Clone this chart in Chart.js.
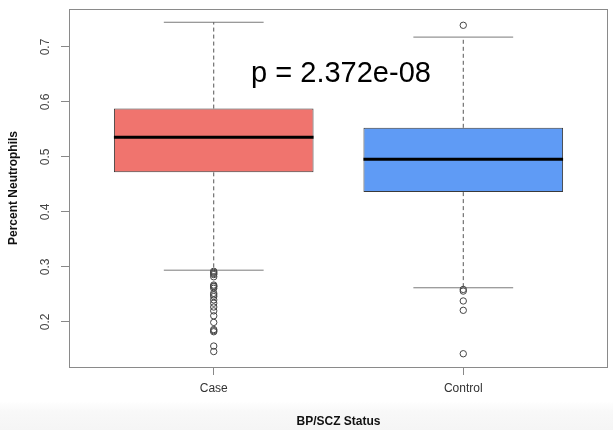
<!DOCTYPE html>
<html>
<head>
<meta charset="utf-8">
<title>Percent Neutrophils by BP/SCZ Status</title>
<script src="https://cdn.jsdelivr.net/npm/chart.js@4"></script>
<style>
  html, body { margin: 0; padding: 0; }
  body {
    width: 613px; height: 430px; overflow: hidden;
    background: linear-gradient(to bottom, #ffffff 0px, #ffffff 401px, #f8f8f8 412px, #f5f5f5 430px);
  }
  canvas { display: block; }
</style>
</head>
<body>
<canvas id="chart" width="613" height="430"></canvas>
<script>
// Groups on the x axis
const groups = ['Case', 'Control'];

// Five-number summaries per group
const lowerWhisker = [0.294, 0.262];
const q1 = [0.472, 0.436];
const median = [0.536, 0.496];
const q3 = [0.588, 0.553];
const upperWhisker = [0.745, 0.718];

// Points beyond the whiskers
const caseOutliers = [0.292, 0.290, 0.288, 0.286, 0.282, 0.267, 0.265, 0.264, 0.261,
  0.252, 0.249, 0.246, 0.240, 0.234, 0.227, 0.220, 0.211, 0.199, 0.186, 0.184, 0.182,
  0.156, 0.146];
const controlOutliers = [0.7395, 0.259, 0.256, 0.238, 0.221, 0.142];
const outliers = [caseOutliers, controlOutliers];

// Axis ticks
const yTicks = [0.2, 0.3, 0.4, 0.5, 0.6, 0.7];

// Test annotation
const pValueText = 'p = 2.372e-08';

const boxColors = ['#F0746E', '#5F9BF5'];
const FONT = '"Liberation Sans", Arial, Helvetica, sans-serif';
const BOX_HALF = 0.4;     // half box width in group units
const STAPLE_HALF = 0.2;  // half whisker-cap width

// Axis limits padded 4% beyond the data range
const allValues = [].concat(lowerWhisker, upperWhisker, caseOutliers, controlOutliers);
const yLo = Math.min(...allValues), yHi = Math.max(...allValues);
const yPad = (yHi - yLo) * 0.04;
const xPad = groups.length * 0.04;

const datasets = [];

// Boxes: floating bars from Q1 to Q3
datasets.push({
  type: 'bar',
  data: groups.map((g, i) => ({ x: i + 1, y: [q1[i], q3[i]] })),
  backgroundColor: boxColors,
  borderColor: '#3a3a3a',
  borderWidth: 1,
  borderSkipped: false,
  barPercentage: 1,
  categoryPercentage: 0.8,
  order: 5
});

groups.forEach((g, i) => {
  const c = i + 1;
  // Median
  datasets.push({
    type: 'line', showLine: true,
    data: [{ x: c - BOX_HALF, y: median[i] }, { x: c + BOX_HALF, y: median[i] }],
    borderColor: '#000', borderWidth: 3, pointRadius: 0, borderCapStyle: 'butt',
    order: 0
  });
  // Dashed whiskers
  datasets.push({
    type: 'line', showLine: true,
    data: [{ x: c, y: q3[i] }, { x: c, y: upperWhisker[i] }],
    borderColor: '#555', borderWidth: 1, borderDash: [4, 3], pointRadius: 0,
    order: 3
  });
  datasets.push({
    type: 'line', showLine: true,
    data: [{ x: c, y: q1[i] }, { x: c, y: lowerWhisker[i] }],
    borderColor: '#555', borderWidth: 1, borderDash: [4, 3], pointRadius: 0,
    order: 3
  });
  // Whisker caps
  [upperWhisker[i], lowerWhisker[i]].forEach(w => {
    datasets.push({
      type: 'line', showLine: true,
      data: [{ x: c - STAPLE_HALF, y: w }, { x: c + STAPLE_HALF, y: w }],
      borderColor: '#7a7a7a', borderWidth: 1, pointRadius: 0,
      order: 3
    });
  });
  // Outlying points
  datasets.push({
    type: 'scatter', showLine: false,
    data: outliers[i].map(v => ({ x: c, y: v })),
    pointStyle: 'circle', pointRadius: 3.2,
    pointBorderColor: '#444', pointBackgroundColor: 'rgba(0,0,0,0)', pointBorderWidth: 1,
    order: 1
  });
});

// Plot frame and the p-value annotation
const framePlugin = {
  id: 'frame',
  afterDatasetsDraw(chart) {
    const { ctx, chartArea: a, scales } = chart;
    ctx.save();
    ctx.strokeStyle = '#8a8a8a';
    ctx.lineWidth = 1;
    ctx.strokeRect(Math.round(a.left) + 0.5, Math.round(a.top) + 0.5,
      Math.round(a.right - a.left) - 1, Math.round(a.bottom - a.top));
    ctx.fillStyle = '#000';
    ctx.font = '29px ' + FONT;
    ctx.textAlign = 'center';
    ctx.textBaseline = 'middle';
    ctx.fillText(pValueText, scales.x.getPixelForValue(1.51), scales.y.getPixelForValue(0.65));
    ctx.restore();
  }
};

new Chart(document.getElementById('chart'), {
  type: 'scatter',
  data: { datasets },
  plugins: [framePlugin],
  options: {
    responsive: false,
    devicePixelRatio: 1,
    animation: false,
    layout: { padding: { top: 9, right: 1, left: 0, bottom: 0 } },
    plugins: { legend: { display: false }, tooltip: { enabled: false } },
    scales: {
      x: {
        type: 'linear',
        min: 0.5 - xPad,
        max: groups.length + 0.5 + xPad,
        offset: false,
        afterBuildTicks(scale) { scale.ticks = groups.map((g, i) => ({ value: i + 1 })); },
        afterFit(scale) {
          scale.height = 63;
          scale.paddingLeft = 0; scale.paddingRight = 0;
        },
        ticks: {
          autoSkip: false, maxRotation: 0, minRotation: 0, padding: 6,
          color: '#333', font: { family: FONT, size: 12 },
          callback: (v) => groups[Math.round(v) - 1]
        },
        grid: { offset: false, drawOnChartArea: false, drawTicks: true, tickLength: 8, tickColor: '#888', color: '#888' },
        border: { display: false },
        title: {
          display: true, text: 'BP/SCZ Status', color: '#111',
          font: { family: FONT, size: 12, weight: 'bold' },
          padding: { top: 0, bottom: 1 }
        }
      },
      y: {
        type: 'linear',
        min: yLo - yPad,
        max: yHi + yPad,
        beginAtZero: false,
        afterBuildTicks(scale) { scale.ticks = yTicks.map(v => ({ value: v })); },
        afterFit(scale) {
          scale.width = 69;
          scale.paddingTop = 0; scale.paddingBottom = 0;
        },
        ticks: {
          minRotation: 90, maxRotation: 90, crossAlign: 'center', padding: 7,
          color: '#444', font: { family: FONT, size: 12 },
          callback: (v) => Number(v).toFixed(1)
        },
        grid: { offset: false, drawOnChartArea: false, drawTicks: true, tickLength: 8, tickColor: '#888', color: '#888' },
        border: { display: false },
        title: {
          display: true, text: 'Percent Neutrophils', color: '#111',
          font: { family: FONT, size: 12, weight: 'bold' },
          padding: { top: 6, bottom: 0 }
        }
      }
    }
  }
});
</script>
</body>
</html>
